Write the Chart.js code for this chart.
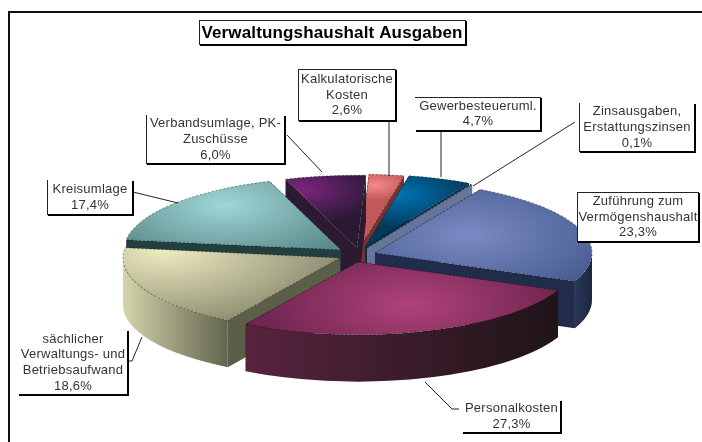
<!DOCTYPE html>
<html><head><meta charset="utf-8">
<style>html,body{margin:0;padding:0;background:#fff}canvas{display:block;filter:blur(.55px)}</style>
<script src="https://cdn.jsdelivr.net/npm/chart.js@4"></script></head>
<body><canvas id="c" width="702" height="442"></canvas>
<script>
const titleText = 'Verwaltungshaushalt Ausgaben';
const categories = ['Zuführung zum\nVermögenshaushalt','Personalkosten','sächlicher\nVerwaltungs- und\nBetriebsaufwand','Kreisumlage','Verbandsumlage, PK-\nZuschüsse','Kalkulatorische\nKosten','Gewerbesteueruml.','Zinsausgaben,\nErstattungszinsen'];
const shares = [23.3,27.3,18.6,17.4,6.0,2.6,4.7,0.1];

const startRotation = 29;
const tilt = 0.335, depth = 47, radius = 217;
const explodeX = [23,6,-12,-11,5,8,13,15];
const explodeY = [0,9,5,-3,-5,-6,-6,-5];
const topLight = ['#7b8ac4','#b0427a','#efecc0','#9fd6d6','#7c2680','#f58a8a','#0072b4','#76869f'];
const topDark  = ['#44598f','#5f1f45','#85856c','#5b8a8a','#2a1835','#c25858','#043a58','#5f6f90'];
const lightX = [470,410,165,225,300,375,400,420];
const lightY = [235,305,250,205,190,185,195,220];
const lightR = [160,190,190,140,80,35,75,60];
const wallLeft  = ['#2a3758','#57243e','#d4d4ac','#1f3d3d','#2b1a30','#8a3a3a','#032a44','#5f6f90'];
const wallRight = ['#1c2640','#1f1418','#62644e','#1f3d3d','#2b1a30','#8a3a3a','#032a44','#5f6f90'];
const sideWall  = ['#212c4a','#3a1a2c','#5b5f48','#213f3f','#2b1a32','#7a3030','#05304a','#66769a'];

const boxLeft   = [577,462,18,47,146,298,415,579];
const boxTop    = [192,400,330,180,115,69,97,103];
const boxWidth  = [122,99,110,86,139,98,126,116];
const boxHeight = [50,33,65,35,49,52,34,49];
const boxSides  = ['trbl','rb','rb','lrb','lrb','trbl','trb','lrb'];
const leaders = [
  [],
  [[459,409],[452,409],[425,382]],
  [[128,361],[132,361],[142,337]],
  [[133,192],[178,203]],
  [[287,135],[322,172]],
  [[389,121],[389,176]],
  [[441,131],[441,177]],
  [[575,122],[473,186]]
];
const pct = v => v.toFixed(1).replace('.',',')+'%';

const pie3d = {
  id:'pie3d',
  beforeDatasetsDraw(chart){
    const ctx = chart.ctx, arcs = chart.getDatasetMeta(0).data;
    const order = arcs.map((a,i)=>i).sort((p,q)=>
      Math.sin((arcs[p].startAngle+arcs[p].endAngle)/2)-Math.sin((arcs[q].startAngle+arcs[q].endAngle)/2));
    order.forEach(i=>{
      const a = arcs[i], R = a.outerRadius, Ry = R*tilt;
      const cx = a.x+explodeX[i], cy = a.y+explodeY[i], a0 = a.startAngle, a1 = a.endAngle;
      [a0,a1].forEach(t=>{
        const px = cx+R*Math.cos(t), py = cy+Ry*Math.sin(t);
        ctx.beginPath();ctx.moveTo(cx,cy);ctx.lineTo(px,py);ctx.lineTo(px,py+depth);ctx.lineTo(cx,cy+depth);ctx.closePath();
        ctx.fillStyle = sideWall[i];ctx.fill();
      });
      const twoPi = Math.PI*2;
      [0,twoPi].forEach(k=>{
        const s = Math.max(a0,k), e = Math.min(a1,k+Math.PI);
        if(e<=s) return;
        let xs = [cx+R*Math.cos(s),cx+R*Math.cos(e)];
        if(s<=k && e>=k) xs.push(cx+R);
        if(s<=k+Math.PI && e>=k+Math.PI) xs.push(cx-R);
        const g = ctx.createLinearGradient(Math.min(...xs),0,Math.max(...xs),0);
        g.addColorStop(0,wallLeft[i]);g.addColorStop(1,wallRight[i]);
        ctx.beginPath();ctx.ellipse(cx,cy,R,Ry,0,s,e);ctx.ellipse(cx,cy+depth,R,Ry,0,e,s,true);ctx.closePath();
        ctx.fillStyle = g;ctx.fill();
      });
      ctx.beginPath();ctx.moveTo(cx,cy);ctx.ellipse(cx,cy,R,Ry,0,a0,a1);ctx.closePath();
      ctx.save();
      ctx.translate(lightX[i],lightY[i]);ctx.scale(1,tilt*1.3);
      const g = ctx.createRadialGradient(0,0,0,0,0,lightR[i]);
      g.addColorStop(0,topLight[i]);g.addColorStop(1,topDark[i]);
      ctx.fillStyle = g;ctx.fill();
      ctx.restore();
      ctx.setLineDash([2,2]);ctx.lineWidth = .8;ctx.strokeStyle = 'rgba(10,10,10,.55)';ctx.stroke();ctx.setLineDash([]);
    });
    return false;
  },
  afterDraw(chart){
    const ctx = chart.ctx;
    ctx.strokeStyle = '#111';ctx.lineWidth = 2;
    ctx.beginPath();ctx.moveTo(9,442);ctx.lineTo(9,12);ctx.lineTo(702,12);ctx.stroke();
    ctx.strokeStyle = '#222';ctx.lineWidth = 1;
    leaders.forEach(l=>{ if(!l.length) return; ctx.beginPath();l.forEach((p,k)=>k?ctx.lineTo(p[0],p[1]):ctx.moveTo(p[0],p[1]));ctx.stroke();});
    const drawBox = (x,y,w,h,sides)=>{
      ctx.fillStyle = '#fff';ctx.fillRect(x,y,w,h);
      ctx.fillStyle = '#222';
      if(sides.includes('t')) ctx.fillRect(x,y,w,1);
      if(sides.includes('l')) ctx.fillRect(x,y,1,h);
      ctx.fillStyle = '#000';
      if(sides.includes('r')) ctx.fillRect(x+w-1,y+1,2,h);
      if(sides.includes('b')) ctx.fillRect(x+1,y+h-1,w,2);
    };
    ctx.textAlign = 'center';ctx.textBaseline = 'middle';
    categories.forEach((c,i)=>{
      drawBox(boxLeft[i],boxTop[i],boxWidth[i],boxHeight[i],boxSides[i]);
      const lines = c.split('\n').concat(pct(shares[i]));
      ctx.font = '13px "Liberation Sans", Arial, sans-serif';ctx.letterSpacing = '.25px';ctx.fillStyle = '#333';
      const cx = boxLeft[i]+boxWidth[i]/2, lh = 15.7, y0 = boxTop[i]+boxHeight[i]/2-(lines.length-1)*lh/2;
      lines.forEach((t,k)=>ctx.fillText(t,cx,y0+k*lh));
    });
    drawBox(199,20,267,25,'trbl');
    ctx.font = 'bold 17px "Liberation Sans", Arial, sans-serif';ctx.letterSpacing = '.15px';ctx.fillStyle = '#000';
    ctx.fillText(titleText,332,33);
  }
};

new Chart(document.getElementById('c'),{
  type:'pie',
  data:{labels:categories,datasets:[{data:shares,borderWidth:0,radius:radius,backgroundColor:topLight}]},
  options:{
    responsive:false,animation:false,rotation:startRotation,
    layout:{padding:{left:2,top:64}},
    plugins:{legend:{display:false},title:{display:false},tooltip:{enabled:false}}
  },
  plugins:[pie3d]
});
</script></body></html>
